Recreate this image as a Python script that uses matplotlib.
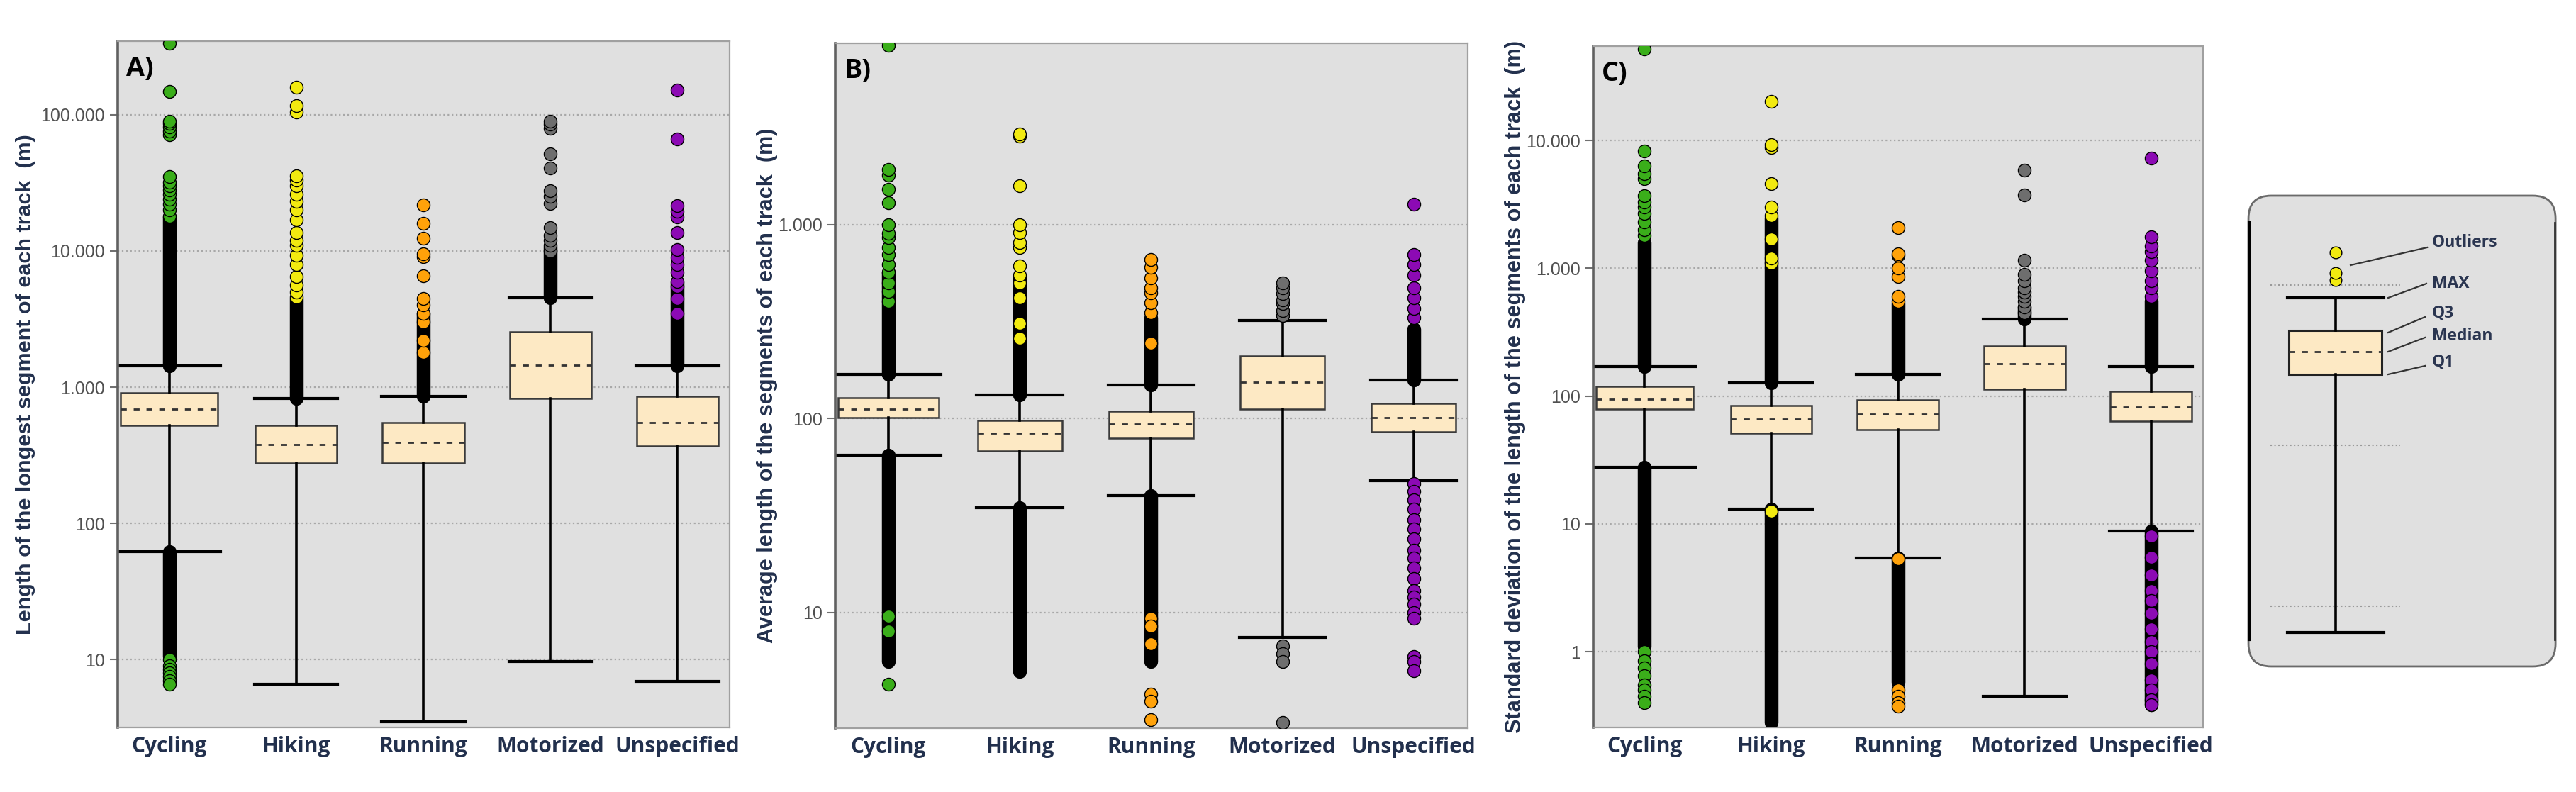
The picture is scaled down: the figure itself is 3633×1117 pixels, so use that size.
import matplotlib
matplotlib.use("Agg")
import matplotlib.pyplot as plt
from matplotlib.patches import FancyBboxPatch
from matplotlib.ticker import FixedLocator, FuncFormatter, NullLocator

# categories shared by the three panels
categories = ["Cycling", "Hiking", "Running", "Motorized", "Unspecified"]
outlier_colors = ["#3aae1a", "#f2ea10", "#ffa20a", "#6e6e6e", "#8c0ab4"]

# ---- A) longest segment of each track (m)
a_q1 = [522, 277, 277, 822, 372]
a_med = [692, 381, 391, 1444, 550]
a_q3 = [910, 522, 550, 2537, 857]
a_whislo = [62, 6.6, 3.5, 9.7, 6.9]
a_whishi = [1432, 829, 857, 4535, 1432]
a_dense_up = [(1432, 17800), (829, 4500), (857, 3500), (4535, 10700), (1432, 5900)]
a_dense_low = [(10.5, 62), None, None, None, None]
a_outliers = [
    [18000, 20000, 22000, 24000, 26000, 28000, 30000, 32000, 35000,
     71000, 76000, 81000, 86000, 90000, 148000, 333000,
     10, 9, 8.5, 8, 7.5, 7, 6.6],
    [4600, 5000, 5600, 6500, 8000, 9300, 11000, 12000, 13700, 17000,
     20000, 23000, 26000, 30000, 33000, 35600, 105000, 117000, 160000],
    [1800, 2200, 3000, 3500, 4000, 4500, 6600, 9100, 9500, 12400, 15900, 21700],
    [10000, 11000, 12000, 13000, 14800, 22400, 25000, 27600, 40800, 51800,
     79000, 85000, 90000],
    [3500, 4500, 5500, 6000, 7000, 8000, 9000, 10200, 13700, 17800, 19500,
     21500, 66000, 152000],
]
a_ticks = [10, 100, 1000, 10000, 100000]
a_ylim = (3.18, 347000)

# ---- B) average length of the segments of each track (m)
b_q1 = [101, 68, 79, 112, 85.5]
b_med = [112, 84, 93.5, 154, 101]
b_q3 = [128, 97.6, 109, 210, 119]
b_whislo = [64.6, 34.8, 40, 7.45, 47.8]
b_whishi = [169, 132, 149, 320, 158]
b_dense_up = [(169, 565), (132, 533), (149, 330), None, (158, 290)]
b_dense_low = [(5.6, 64.6), (4.96, 34.8), (5.6, 40), None, None]
b_outliers = [
    [400, 450, 500, 565, 620, 700, 760, 860, 900, 1000, 1290, 1520, 1800,
     1930, 8400, 9.6, 8, 4.27],
    [260, 310, 420, 500, 550, 611, 760, 810, 910, 1000, 1590, 2860, 2940],
    [245, 350, 395, 445, 470, 530, 600, 658, 9.3, 8.5, 6.9, 3.8, 3.47, 2.8],
    [340, 360, 390, 410, 440, 470, 500, 6.7, 6.1, 5.6, 2.7],
    [330, 370, 420, 470, 550, 620, 698, 1270,
     46, 42, 38, 34, 30, 27, 24, 21, 19, 17, 15, 13, 12, 11, 10, 9.3,
     5.9, 5.6, 5.0],
]
b_ticks = [10, 100, 1000]
b_ylim = (2.53, 8600)

# ---- C) standard deviation of the length of the segments of each track (m)
c_q1 = [79, 51.5, 54.8, 113.6, 64]
c_med = [94.6, 65.8, 72, 179, 81.9]
c_q3 = [119, 84, 93, 246, 108.6]
c_whislo = [27.7, 13, 5.4, 0.449, 8.8]
c_whishi = [171, 127, 147, 398, 171]
c_dense_up = [(171, 1600), (127, 2500), (147, 533), (398, 500), (171, 558)]
c_dense_low = [(1.1, 27.7), (0.28, 13), (0.58, 5.4), None, (0.385, 8.8)]
c_outliers = [
    [1800, 2000, 2300, 2700, 3000, 3300, 3700, 5000, 5500, 6300, 8300, 51900,
     1.0, 0.85, 0.75, 0.65, 0.55, 0.5, 0.45, 0.4],
    [1100, 1200, 1700, 2600, 3000, 4600, 8800, 9300, 20300, 12.5],
    [550, 600, 865, 1000, 1260, 1300, 2090, 5.3, 0.5, 0.45, 0.4, 0.374],
    [450, 500, 550, 600, 650, 700, 800, 900, 1155, 3740, 5850],
    [600, 700, 800, 950, 1150, 1350, 1500, 1770, 7280,
     8, 5.5, 4, 3, 2.5, 2, 1.5, 1.2, 1, 0.8, 0.6, 0.5, 0.42, 0.385],
]
c_ticks = [1, 10, 100, 1000, 10000]
c_ylim = (0.255, 54800)

ylabels = [
    "Length of the longest segment of each track  (m)",
    "Average length of the segments of each track  (m)",
    "Standard deviation of the length of the segments of each track  (m)",
]
# length in pixels that each y label covers in the reference
ylabel_span = [705, 727, 976]
panel_tags = ["A)", "B)", "C)"]

# ---- legend schematic (arbitrary units inside the legend box)
leg_stats = dict(whislo=50, q1=413.5, med=445.5, q3=475.5, whishi=522)
leg_outliers = [547, 557, 586]
leg_guides = [540, 314, 87]
leg_names = ["Outliers", "MAX", "Q3", "Median", "Q1"]
leg_name_y = [600, 542, 500, 468, 431]
leg_lead_from = [(146, 568), (199, 522), (199, 473), (199, 446), (199, 414)]
leg_lead_to = [(254, 593), (253, 542), (251, 495), (251, 466), (251, 426)]

BOX_FILL = "#fde9c4"
BG = "#e0e0e0"
NAVY = "#22304d"

positions = [1, 2, 3, 4, 5]
box_widths = [0.765, 0.643, 0.643, 0.643, 0.643]
cap_widths = [0.805, 0.655, 0.655, 0.655, 0.655]


def dot_thousands(v, pos):
    if v >= 1:
        return f"{int(round(v)):,}".replace(",", ".")
    return f"{v:g}"


def draw_panel(ax, q1, med, q3, wlo, whi, dense_up, dense_low, outliers,
               ticks, ylim, tag, ylabel, label_x):
    ax.set_facecolor(BG)
    ax.set_yscale("log")
    stats = []
    for i in range(len(categories)):
        stats.append(dict(q1=q1[i], med=med[i], q3=q3[i],
                          whislo=wlo[i], whishi=whi[i], fliers=[]))
    ax.bxp(stats, positions=positions, widths=box_widths, capwidths=cap_widths,
           patch_artist=True, showfliers=False, manage_ticks=False,
           boxprops=dict(facecolor=BOX_FILL, edgecolor="#3a3a3a", linewidth=1.8),
           whiskerprops=dict(color="black", linewidth=2.6),
           capprops=dict(color="black", linewidth=3.0),
           medianprops=dict(color="#333333", linewidth=2.0,
                            linestyle=(0, (3, 3.5))))
    # dense runs of outliers show as a solid black column
    for x, band in zip(positions, dense_up):
        if band:
            ax.plot([x, x], band, color="black", lw=14,
                    solid_capstyle="round", zorder=3)
    for x, band in zip(positions, dense_low):
        if band:
            ax.plot([x, x], band, color="black", lw=14,
                    solid_capstyle="round", zorder=3)
    for x, vals, col in zip(positions, outliers, outlier_colors):
        ax.plot([x] * len(vals), vals, ls="none", marker="o", ms=13,
                mfc=col, mec="black", mew=1.0, zorder=4)

    ax.set_xlim(0.595, 5.41)
    ax.set_ylim(*ylim)
    ax.yaxis.set_major_locator(FixedLocator(ticks))
    ax.yaxis.set_minor_locator(NullLocator())
    ax.yaxis.set_major_formatter(FuncFormatter(dot_thousands))
    ax.grid(axis="y", which="major", color="#a8a8a8", linestyle=":",
            linewidth=1.6, zorder=0)
    ax.set_axisbelow(True)
    ax.set_xticks(positions)
    ax.set_xticklabels(categories, fontfamily="Open Sans", fontweight="bold",
                       fontsize=21.5, color=NAVY)
    ax.tick_params(axis="x", length=0, pad=9)
    ax.tick_params(axis="y", length=8, width=1.5, color="#707070",
                   labelsize=18, labelcolor="#505050", pad=5,
                   labelfontfamily="Liberation Sans")
    for side in ["top", "right", "bottom"]:
        ax.spines[side].set_color("#a0a0a0")
        ax.spines[side].set_linewidth(1.6)
    ax.spines["left"].set_color("#606060")
    ax.spines["left"].set_linewidth(2.6)

    ax.set_ylabel(ylabel, fontsize=20, color=NAVY, fontweight="bold",
                  fontfamily="Liberation Sans")
    ax.yaxis.set_label_coords(label_x, 0.5)
    ax.text(0.014, 0.979, tag, transform=ax.transAxes, ha="left", va="top",
            fontsize=27, fontweight="bold", fontfamily="Open Sans", color="black")


fig = plt.figure(figsize=(36.33, 11.17), dpi=100)

ax_a = fig.add_axes([0.0457, 0.0815, 0.2375, 0.8666])
ax_b = fig.add_axes([0.3242, 0.0806, 0.2455, 0.8648])
ax_c = fig.add_axes([0.6185, 0.0815, 0.2367, 0.8603])
panels = [ax_a, ax_b, ax_c]

draw_panel(ax_a, a_q1, a_med, a_q3, a_whislo, a_whishi, a_dense_up, a_dense_low,
           a_outliers, a_ticks, a_ylim, panel_tags[0], ylabels[0], -0.134)
draw_panel(ax_b, b_q1, b_med, b_q3, b_whislo, b_whishi, b_dense_up, b_dense_low,
           b_outliers, b_ticks, b_ylim, panel_tags[1], ylabels[1], -0.091)
draw_panel(ax_c, c_q1, c_med, c_q3, c_whislo, c_whishi, c_dense_up, c_dense_low,
           c_outliers, c_ticks, c_ylim, panel_tags[2], ylabels[2], -0.110)

# the reference uses a condensed face: shrink each label to the same span
fig.canvas.draw()
renderer = fig.canvas.get_renderer()
for ax, span in zip(panels, ylabel_span):
    lab = ax.yaxis.label
    h = lab.get_window_extent(renderer).height
    lab.set_fontsize(lab.get_fontsize() * span / h)

# legend box on the right
lg = fig.add_axes([0.8723, 0.1567, 0.1203, 0.598])
lg.set_xlim(0, 437)
lg.set_ylim(0, 668)
lg.axis("off")
lg.add_patch(FancyBboxPatch((2, 2), 433, 664,
                            boxstyle="round,pad=0,rounding_size=32",
                            facecolor=BG, edgecolor="#6a6a6a", linewidth=2,
                            clip_on=False))
lg.plot([3, 3], [40, 628], color="black", lw=3)
lg.plot([434, 434], [40, 628], color="#333333", lw=2)
lg.hlines(leg_guides, 33, 216, colors="#9a9a9a", linestyles=":", lw=1.5)
lg.bxp([dict(fliers=[], **leg_stats)], positions=[124.5], widths=[130.5],
       capwidths=[136], patch_artist=True, showfliers=False, manage_ticks=False,
       boxprops=dict(facecolor=BOX_FILL, edgecolor="#222222", linewidth=2.2),
       whiskerprops=dict(color="black", linewidth=2.6),
       capprops=dict(color="black", linewidth=3.0),
       medianprops=dict(color="#333333", linewidth=2.0, linestyle=(0, (3, 3.5))))
lg.plot([124.5] * len(leg_outliers), leg_outliers, ls="none", marker="o", ms=12,
        mfc=outlier_colors[1], mec="black", mew=1.0, zorder=4)
for name, y, p0, p1 in zip(leg_names, leg_name_y, leg_lead_from, leg_lead_to):
    lg.plot([p0[0], p1[0]], [p0[1], p1[1]], color="#333333", lw=1.6)
    lg.text(261, y, name, ha="left", va="center", fontsize=16.5,
            fontweight="bold", fontfamily="Open Sans", color="#2a3550")

fig.savefig("out.png", dpi=100)
